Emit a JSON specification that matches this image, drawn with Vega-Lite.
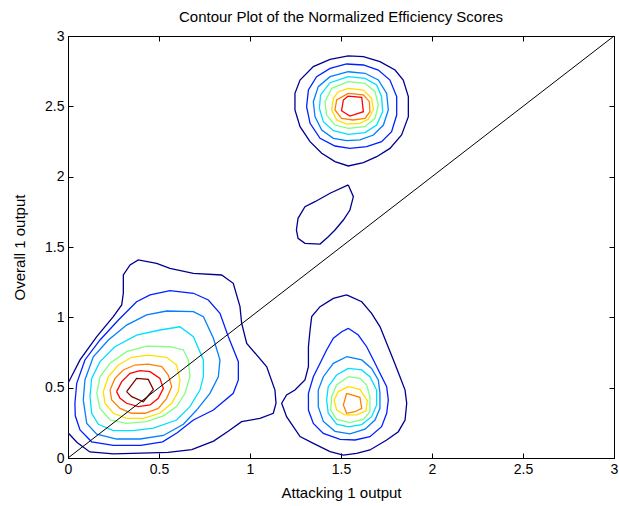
{
  "$schema": "https://vega.github.io/schema/vega-lite/v6.json",
  "width": 546,
  "height": 422,
  "autosize": {"type": "none"},
  "padding": {"left": 68, "top": 36, "right": 5, "bottom": 48},
  "background": "white",
  "title": {"text": "Contour Plot of the Normalized Efficiency Scores", "fontSize": 15, "fontWeight": "normal", "font": "Liberation Sans", "color": "black", "offset": 4, "anchor": "middle"},
  "config": {
    "view": {"stroke": "black", "strokeWidth": 1},
    "axis": {"grid": false, "domainColor": "black", "tickColor": "black", "labelColor": "black", "titleColor": "black", "labelFont": "Liberation Sans", "titleFont": "Liberation Sans", "labelFontSize": 14, "titleFontSize": 15, "titleFontWeight": "normal", "tickSize": -5, "labelPadding": 9, "format": "~g"}
  },
  "datasets": {
    "diag": [{"x": 0, "y": 0}, {"x": 3, "y": 3}],
    "contours": [
      {"c":"A0","l":0,"i":0,"x":0,"y":0.531},{"c":"A0","l":0,"i":1,"x":0.066,"y":0.697},{"c":"A0","l":0,"i":2,"x":0.158,"y":0.863},{"c":"A0","l":0,"i":3,"x":0.249,"y":1.005},{"c":"A0","l":0,"i":4,"x":0.295,"y":1.088},{"c":"A0","l":0,"i":5,"x":0.304,"y":1.171},{"c":"A0","l":0,"i":6,"x":0.304,"y":1.301},{"c":"A0","l":0,"i":7,"x":0.341,"y":1.372},{"c":"A0","l":0,"i":8,"x":0.386,"y":1.408},{"c":"A0","l":0,"i":9,"x":0.487,"y":1.384},{"c":"A0","l":0,"i":10,"x":0.56,"y":1.348},{"c":"A0","l":0,"i":11,"x":0.689,"y":1.313},{"c":"A0","l":0,"i":12,"x":0.844,"y":1.301},{"c":"A0","l":0,"i":13,"x":0.908,"y":1.242},{"c":"A0","l":0,"i":14,"x":0.945,"y":1.076},{"c":"A0","l":0,"i":15,"x":0.954,"y":0.958},{"c":"A0","l":0,"i":16,"x":0.982,"y":0.815},{"c":"A0","l":0,"i":17,"x":1.092,"y":0.649},{"c":"A0","l":0,"i":18,"x":1.137,"y":0.483},{"c":"A0","l":0,"i":19,"x":1.143,"y":0.389},{"c":"A0","l":0,"i":20,"x":1.128,"y":0.318},{"c":"A0","l":0,"i":21,"x":1.055,"y":0.282},{"c":"A0","l":0,"i":22,"x":0.954,"y":0.258},{"c":"A0","l":0,"i":23,"x":0.88,"y":0.19},{"c":"A0","l":0,"i":24,"x":0.8,"y":0.12},{"c":"A0","l":0,"i":25,"x":0.68,"y":0.06},{"c":"A0","l":0,"i":26,"x":0.55,"y":0.04},{"c":"A0","l":0,"i":27,"x":0.4,"y":0.035},{"c":"A0","l":0,"i":28,"x":0.25,"y":0.03},{"c":"A0","l":0,"i":29,"x":0.12,"y":0.043},{"c":"A0","l":0,"i":30,"x":0.05,"y":0.11},{"c":"A0","l":0,"i":31,"x":0,"y":0.18},
      {"c":"A1","l":1,"i":0,"x":0.038,"y":0.389},{"c":"A1","l":1,"i":1,"x":0.048,"y":0.531},{"c":"A1","l":1,"i":2,"x":0.093,"y":0.697},{"c":"A1","l":1,"i":3,"x":0.176,"y":0.839},{"c":"A1","l":1,"i":4,"x":0.277,"y":0.981},{"c":"A1","l":1,"i":5,"x":0.377,"y":1.111},{"c":"A1","l":1,"i":6,"x":0.451,"y":1.159},{"c":"A1","l":1,"i":7,"x":0.56,"y":1.19},{"c":"A1","l":1,"i":8,"x":0.689,"y":1.171},{"c":"A1","l":1,"i":9,"x":0.771,"y":1.123},{"c":"A1","l":1,"i":10,"x":0.835,"y":1.029},{"c":"A1","l":1,"i":11,"x":0.881,"y":0.862},{"c":"A1","l":1,"i":12,"x":0.936,"y":0.685},{"c":"A1","l":1,"i":13,"x":0.936,"y":0.555},{"c":"A1","l":1,"i":14,"x":0.908,"y":0.46},{"c":"A1","l":1,"i":15,"x":0.799,"y":0.341},{"c":"A1","l":1,"i":16,"x":0.689,"y":0.27},{"c":"A1","l":1,"i":17,"x":0.6,"y":0.18},{"c":"A1","l":1,"i":18,"x":0.52,"y":0.115},{"c":"A1","l":1,"i":19,"x":0.4,"y":0.09},{"c":"A1","l":1,"i":20,"x":0.25,"y":0.09},{"c":"A1","l":1,"i":21,"x":0.13,"y":0.115},{"c":"A1","l":1,"i":22,"x":0.066,"y":0.2},{"c":"A1","l":1,"i":23,"x":0.04,"y":0.3},{"c":"A1","l":1,"i":24,"x":0.038,"y":0.389},
      {"c":"A2","l":2,"i":0,"x":0.084,"y":0.412},{"c":"A2","l":2,"i":1,"x":0.093,"y":0.555},{"c":"A2","l":2,"i":2,"x":0.139,"y":0.72},{"c":"A2","l":2,"i":3,"x":0.222,"y":0.839},{"c":"A2","l":2,"i":4,"x":0.322,"y":0.945},{"c":"A2","l":2,"i":5,"x":0.432,"y":1.017},{"c":"A2","l":2,"i":6,"x":0.542,"y":1.045},{"c":"A2","l":2,"i":7,"x":0.689,"y":1.04},{"c":"A2","l":2,"i":8,"x":0.744,"y":1.004},{"c":"A2","l":2,"i":9,"x":0.799,"y":0.851},{"c":"A2","l":2,"i":10,"x":0.835,"y":0.697},{"c":"A2","l":2,"i":11,"x":0.826,"y":0.578},{"c":"A2","l":2,"i":12,"x":0.78,"y":0.46},{"c":"A2","l":2,"i":13,"x":0.707,"y":0.341},{"c":"A2","l":2,"i":14,"x":0.634,"y":0.24},{"c":"A2","l":2,"i":15,"x":0.524,"y":0.16},{"c":"A2","l":2,"i":16,"x":0.396,"y":0.135},{"c":"A2","l":2,"i":17,"x":0.267,"y":0.135},{"c":"A2","l":2,"i":18,"x":0.158,"y":0.17},{"c":"A2","l":2,"i":19,"x":0.103,"y":0.246},{"c":"A2","l":2,"i":20,"x":0.084,"y":0.412},
      {"c":"A3","l":3,"i":0,"x":0.121,"y":0.436},{"c":"A3","l":3,"i":1,"x":0.13,"y":0.566},{"c":"A3","l":3,"i":2,"x":0.176,"y":0.685},{"c":"A3","l":3,"i":3,"x":0.258,"y":0.791},{"c":"A3","l":3,"i":4,"x":0.377,"y":0.874},{"c":"A3","l":3,"i":5,"x":0.505,"y":0.91},{"c":"A3","l":3,"i":6,"x":0.615,"y":0.933},{"c":"A3","l":3,"i":7,"x":0.689,"y":0.862},{"c":"A3","l":3,"i":8,"x":0.744,"y":0.697},{"c":"A3","l":3,"i":9,"x":0.744,"y":0.578},{"c":"A3","l":3,"i":10,"x":0.725,"y":0.483},{"c":"A3","l":3,"i":11,"x":0.67,"y":0.365},{"c":"A3","l":3,"i":12,"x":0.597,"y":0.27},{"c":"A3","l":3,"i":13,"x":0.469,"y":0.213},{"c":"A3","l":3,"i":14,"x":0.359,"y":0.195},{"c":"A3","l":3,"i":15,"x":0.249,"y":0.195},{"c":"A3","l":3,"i":16,"x":0.167,"y":0.24},{"c":"A3","l":3,"i":17,"x":0.13,"y":0.318},{"c":"A3","l":3,"i":18,"x":0.121,"y":0.436},
      {"c":"A4","l":4,"i":0,"x":0.158,"y":0.46},{"c":"A4","l":4,"i":1,"x":0.176,"y":0.578},{"c":"A4","l":4,"i":2,"x":0.231,"y":0.673},{"c":"A4","l":4,"i":3,"x":0.322,"y":0.756},{"c":"A4","l":4,"i":4,"x":0.432,"y":0.796},{"c":"A4","l":4,"i":5,"x":0.56,"y":0.791},{"c":"A4","l":4,"i":6,"x":0.634,"y":0.768},{"c":"A4","l":4,"i":7,"x":0.661,"y":0.697},{"c":"A4","l":4,"i":8,"x":0.67,"y":0.578},{"c":"A4","l":4,"i":9,"x":0.643,"y":0.46},{"c":"A4","l":4,"i":10,"x":0.597,"y":0.365},{"c":"A4","l":4,"i":11,"x":0.524,"y":0.3},{"c":"A4","l":4,"i":12,"x":0.432,"y":0.258},{"c":"A4","l":4,"i":13,"x":0.322,"y":0.246},{"c":"A4","l":4,"i":14,"x":0.231,"y":0.27},{"c":"A4","l":4,"i":15,"x":0.176,"y":0.353},{"c":"A4","l":4,"i":16,"x":0.158,"y":0.46},
      {"c":"A5","l":5,"i":0,"x":0.194,"y":0.472},{"c":"A5","l":5,"i":1,"x":0.222,"y":0.578},{"c":"A5","l":5,"i":2,"x":0.277,"y":0.661},{"c":"A5","l":5,"i":3,"x":0.35,"y":0.716},{"c":"A5","l":5,"i":4,"x":0.441,"y":0.732},{"c":"A5","l":5,"i":5,"x":0.542,"y":0.716},{"c":"A5","l":5,"i":6,"x":0.597,"y":0.661},{"c":"A5","l":5,"i":7,"x":0.615,"y":0.555},{"c":"A5","l":5,"i":8,"x":0.606,"y":0.472},{"c":"A5","l":5,"i":9,"x":0.57,"y":0.389},{"c":"A5","l":5,"i":10,"x":0.505,"y":0.318},{"c":"A5","l":5,"i":11,"x":0.414,"y":0.282},{"c":"A5","l":5,"i":12,"x":0.322,"y":0.282},{"c":"A5","l":5,"i":13,"x":0.249,"y":0.318},{"c":"A5","l":5,"i":14,"x":0.203,"y":0.389},{"c":"A5","l":5,"i":15,"x":0.194,"y":0.472},
      {"c":"A6","l":6,"i":0,"x":0.231,"y":0.483},{"c":"A6","l":6,"i":1,"x":0.258,"y":0.566},{"c":"A6","l":6,"i":2,"x":0.304,"y":0.626},{"c":"A6","l":6,"i":3,"x":0.368,"y":0.661},{"c":"A6","l":6,"i":4,"x":0.441,"y":0.668},{"c":"A6","l":6,"i":5,"x":0.515,"y":0.649},{"c":"A6","l":6,"i":6,"x":0.551,"y":0.59},{"c":"A6","l":6,"i":7,"x":0.57,"y":0.507},{"c":"A6","l":6,"i":8,"x":0.542,"y":0.424},{"c":"A6","l":6,"i":9,"x":0.496,"y":0.353},{"c":"A6","l":6,"i":10,"x":0.423,"y":0.318},{"c":"A6","l":6,"i":11,"x":0.35,"y":0.318},{"c":"A6","l":6,"i":12,"x":0.286,"y":0.353},{"c":"A6","l":6,"i":13,"x":0.24,"y":0.412},{"c":"A6","l":6,"i":14,"x":0.231,"y":0.483},
      {"c":"A7","l":7,"i":0,"x":0.267,"y":0.472},{"c":"A7","l":7,"i":1,"x":0.295,"y":0.543},{"c":"A7","l":7,"i":2,"x":0.341,"y":0.602},{"c":"A7","l":7,"i":3,"x":0.396,"y":0.621},{"c":"A7","l":7,"i":4,"x":0.451,"y":0.614},{"c":"A7","l":7,"i":5,"x":0.505,"y":0.566},{"c":"A7","l":7,"i":6,"x":0.524,"y":0.495},{"c":"A7","l":7,"i":7,"x":0.496,"y":0.424},{"c":"A7","l":7,"i":8,"x":0.451,"y":0.377},{"c":"A7","l":7,"i":9,"x":0.386,"y":0.365},{"c":"A7","l":7,"i":10,"x":0.322,"y":0.389},{"c":"A7","l":7,"i":11,"x":0.286,"y":0.424},{"c":"A7","l":7,"i":12,"x":0.267,"y":0.472},
      {"c":"A8","l":8,"i":0,"x":0.322,"y":0.472},{"c":"A8","l":8,"i":1,"x":0.377,"y":0.566},{"c":"A8","l":8,"i":2,"x":0.441,"y":0.559},{"c":"A8","l":8,"i":3,"x":0.469,"y":0.488},{"c":"A8","l":8,"i":4,"x":0.414,"y":0.4},{"c":"A8","l":8,"i":5,"x":0.35,"y":0.436},{"c":"A8","l":8,"i":6,"x":0.322,"y":0.472},
      {"c":"B0","l":0,"i":0,"x":1.531,"y":1.159},{"c":"B0","l":0,"i":1,"x":1.614,"y":1.111},{"c":"B0","l":0,"i":2,"x":1.668,"y":1.028},{"c":"B0","l":0,"i":3,"x":1.714,"y":0.934},{"c":"B0","l":0,"i":4,"x":1.751,"y":0.815},{"c":"B0","l":0,"i":5,"x":1.788,"y":0.697},{"c":"B0","l":0,"i":6,"x":1.824,"y":0.578},{"c":"B0","l":0,"i":7,"x":1.852,"y":0.483},{"c":"B0","l":0,"i":8,"x":1.861,"y":0.389},{"c":"B0","l":0,"i":9,"x":1.852,"y":0.27},{"c":"B0","l":0,"i":10,"x":1.815,"y":0.187},{"c":"B0","l":0,"i":11,"x":1.751,"y":0.128},{"c":"B0","l":0,"i":12,"x":1.659,"y":0.057},{"c":"B0","l":0,"i":13,"x":1.586,"y":0.033},{"c":"B0","l":0,"i":14,"x":1.513,"y":0.021},{"c":"B0","l":0,"i":15,"x":1.44,"y":0.045},{"c":"B0","l":0,"i":16,"x":1.348,"y":0.104},{"c":"B0","l":0,"i":17,"x":1.275,"y":0.152},{"c":"B0","l":0,"i":18,"x":1.238,"y":0.223},{"c":"B0","l":0,"i":19,"x":1.201,"y":0.294},{"c":"B0","l":0,"i":20,"x":1.174,"y":0.389},{"c":"B0","l":0,"i":21,"x":1.201,"y":0.448},{"c":"B0","l":0,"i":22,"x":1.247,"y":0.483},{"c":"B0","l":0,"i":23,"x":1.302,"y":0.555},{"c":"B0","l":0,"i":24,"x":1.321,"y":0.649},{"c":"B0","l":0,"i":25,"x":1.321,"y":0.791},{"c":"B0","l":0,"i":26,"x":1.33,"y":0.91},{"c":"B0","l":0,"i":27,"x":1.339,"y":1.005},{"c":"B0","l":0,"i":28,"x":1.385,"y":1.076},{"c":"B0","l":0,"i":29,"x":1.458,"y":1.135},{"c":"B0","l":0,"i":30,"x":1.531,"y":1.159},
      {"c":"B1","l":1,"i":0,"x":1.54,"y":0.922},{"c":"B1","l":1,"i":1,"x":1.595,"y":0.874},{"c":"B1","l":1,"i":2,"x":1.641,"y":0.791},{"c":"B1","l":1,"i":3,"x":1.678,"y":0.697},{"c":"B1","l":1,"i":4,"x":1.714,"y":0.602},{"c":"B1","l":1,"i":5,"x":1.751,"y":0.507},{"c":"B1","l":1,"i":6,"x":1.76,"y":0.412},{"c":"B1","l":1,"i":7,"x":1.751,"y":0.318},{"c":"B1","l":1,"i":8,"x":1.723,"y":0.223},{"c":"B1","l":1,"i":9,"x":1.659,"y":0.152},{"c":"B1","l":1,"i":10,"x":1.577,"y":0.128},{"c":"B1","l":1,"i":11,"x":1.495,"y":0.133},{"c":"B1","l":1,"i":12,"x":1.403,"y":0.175},{"c":"B1","l":1,"i":13,"x":1.348,"y":0.246},{"c":"B1","l":1,"i":14,"x":1.321,"y":0.341},{"c":"B1","l":1,"i":15,"x":1.321,"y":0.46},{"c":"B1","l":1,"i":16,"x":1.348,"y":0.578},{"c":"B1","l":1,"i":17,"x":1.385,"y":0.673},{"c":"B1","l":1,"i":18,"x":1.421,"y":0.768},{"c":"B1","l":1,"i":19,"x":1.458,"y":0.851},{"c":"B1","l":1,"i":20,"x":1.504,"y":0.898},{"c":"B1","l":1,"i":21,"x":1.54,"y":0.922},
      {"c":"B2","l":2,"i":0,"x":1.531,"y":0.72},{"c":"B2","l":2,"i":1,"x":1.614,"y":0.697},{"c":"B2","l":2,"i":2,"x":1.668,"y":0.637},{"c":"B2","l":2,"i":3,"x":1.705,"y":0.555},{"c":"B2","l":2,"i":4,"x":1.714,"y":0.46},{"c":"B2","l":2,"i":5,"x":1.714,"y":0.353},{"c":"B2","l":2,"i":6,"x":1.687,"y":0.27},{"c":"B2","l":2,"i":7,"x":1.632,"y":0.205},{"c":"B2","l":2,"i":8,"x":1.549,"y":0.171},{"c":"B2","l":2,"i":9,"x":1.467,"y":0.19},{"c":"B2","l":2,"i":10,"x":1.403,"y":0.26},{"c":"B2","l":2,"i":11,"x":1.375,"y":0.365},{"c":"B2","l":2,"i":12,"x":1.375,"y":0.483},{"c":"B2","l":2,"i":13,"x":1.403,"y":0.578},{"c":"B2","l":2,"i":14,"x":1.458,"y":0.673},{"c":"B2","l":2,"i":15,"x":1.531,"y":0.72},
      {"c":"B3","l":3,"i":0,"x":1.54,"y":0.637},{"c":"B3","l":3,"i":1,"x":1.614,"y":0.626},{"c":"B3","l":3,"i":2,"x":1.659,"y":0.578},{"c":"B3","l":3,"i":3,"x":1.696,"y":0.483},{"c":"B3","l":3,"i":4,"x":1.696,"y":0.377},{"c":"B3","l":3,"i":5,"x":1.668,"y":0.294},{"c":"B3","l":3,"i":6,"x":1.614,"y":0.238},{"c":"B3","l":3,"i":7,"x":1.54,"y":0.221},{"c":"B3","l":3,"i":8,"x":1.476,"y":0.24},{"c":"B3","l":3,"i":9,"x":1.43,"y":0.318},{"c":"B3","l":3,"i":10,"x":1.421,"y":0.412},{"c":"B3","l":3,"i":11,"x":1.43,"y":0.507},{"c":"B3","l":3,"i":12,"x":1.476,"y":0.59},{"c":"B3","l":3,"i":13,"x":1.54,"y":0.637},
      {"c":"B4","l":4,"i":0,"x":1.54,"y":0.578},{"c":"B4","l":4,"i":1,"x":1.604,"y":0.566},{"c":"B4","l":4,"i":2,"x":1.641,"y":0.519},{"c":"B4","l":4,"i":3,"x":1.659,"y":0.436},{"c":"B4","l":4,"i":4,"x":1.659,"y":0.329},{"c":"B4","l":4,"i":5,"x":1.623,"y":0.275},{"c":"B4","l":4,"i":6,"x":1.549,"y":0.251},{"c":"B4","l":4,"i":7,"x":1.476,"y":0.275},{"c":"B4","l":4,"i":8,"x":1.443,"y":0.341},{"c":"B4","l":4,"i":9,"x":1.449,"y":0.436},{"c":"B4","l":4,"i":10,"x":1.476,"y":0.519},{"c":"B4","l":4,"i":11,"x":1.54,"y":0.578},
      {"c":"B5","l":5,"i":0,"x":1.54,"y":0.507},{"c":"B5","l":5,"i":1,"x":1.604,"y":0.488},{"c":"B5","l":5,"i":2,"x":1.645,"y":0.408},{"c":"B5","l":5,"i":3,"x":1.637,"y":0.336},{"c":"B5","l":5,"i":4,"x":1.586,"y":0.306},{"c":"B5","l":5,"i":5,"x":1.522,"y":0.306},{"c":"B5","l":5,"i":6,"x":1.476,"y":0.341},{"c":"B5","l":5,"i":7,"x":1.462,"y":0.412},{"c":"B5","l":5,"i":8,"x":1.485,"y":0.472},{"c":"B5","l":5,"i":9,"x":1.54,"y":0.507},
      {"c":"B6","l":6,"i":0,"x":1.531,"y":0.46},{"c":"B6","l":6,"i":1,"x":1.604,"y":0.431},{"c":"B6","l":6,"i":2,"x":1.614,"y":0.353},{"c":"B6","l":6,"i":3,"x":1.577,"y":0.329},{"c":"B6","l":6,"i":4,"x":1.531,"y":0.318},{"c":"B6","l":6,"i":5,"x":1.513,"y":0.377},{"c":"B6","l":6,"i":6,"x":1.531,"y":0.46},
      {"c":"T0","l":0,"i":0,"x":1.54,"y":2.858},{"c":"T0","l":0,"i":1,"x":1.623,"y":2.853},{"c":"T0","l":0,"i":2,"x":1.714,"y":2.818},{"c":"T0","l":0,"i":3,"x":1.797,"y":2.758},{"c":"T0","l":0,"i":4,"x":1.842,"y":2.687},{"c":"T0","l":0,"i":5,"x":1.87,"y":2.569},{"c":"T0","l":0,"i":6,"x":1.87,"y":2.427},{"c":"T0","l":0,"i":7,"x":1.833,"y":2.296},{"c":"T0","l":0,"i":8,"x":1.769,"y":2.201},{"c":"T0","l":0,"i":9,"x":1.696,"y":2.142},{"c":"T0","l":0,"i":10,"x":1.623,"y":2.1},{"c":"T0","l":0,"i":11,"x":1.54,"y":2.076},{"c":"T0","l":0,"i":12,"x":1.467,"y":2.107},{"c":"T0","l":0,"i":13,"x":1.394,"y":2.166},{"c":"T0","l":0,"i":14,"x":1.33,"y":2.249},{"c":"T0","l":0,"i":15,"x":1.275,"y":2.355},{"c":"T0","l":0,"i":16,"x":1.247,"y":2.474},{"c":"T0","l":0,"i":17,"x":1.247,"y":2.592},{"c":"T0","l":0,"i":18,"x":1.275,"y":2.687},{"c":"T0","l":0,"i":19,"x":1.348,"y":2.782},{"c":"T0","l":0,"i":20,"x":1.44,"y":2.834},{"c":"T0","l":0,"i":21,"x":1.54,"y":2.858},
      {"c":"T1","l":1,"i":0,"x":1.531,"y":2.801},{"c":"T1","l":1,"i":1,"x":1.623,"y":2.794},{"c":"T1","l":1,"i":2,"x":1.705,"y":2.758},{"c":"T1","l":1,"i":3,"x":1.769,"y":2.687},{"c":"T1","l":1,"i":4,"x":1.806,"y":2.569},{"c":"T1","l":1,"i":5,"x":1.806,"y":2.438},{"c":"T1","l":1,"i":6,"x":1.778,"y":2.32},{"c":"T1","l":1,"i":7,"x":1.723,"y":2.249},{"c":"T1","l":1,"i":8,"x":1.641,"y":2.213},{"c":"T1","l":1,"i":9,"x":1.549,"y":2.201},{"c":"T1","l":1,"i":10,"x":1.467,"y":2.218},{"c":"T1","l":1,"i":11,"x":1.385,"y":2.273},{"c":"T1","l":1,"i":12,"x":1.33,"y":2.379},{"c":"T1","l":1,"i":13,"x":1.311,"y":2.498},{"c":"T1","l":1,"i":14,"x":1.321,"y":2.616},{"c":"T1","l":1,"i":15,"x":1.366,"y":2.711},{"c":"T1","l":1,"i":16,"x":1.44,"y":2.77},{"c":"T1","l":1,"i":17,"x":1.531,"y":2.801},
      {"c":"T2","l":2,"i":0,"x":1.54,"y":2.746},{"c":"T2","l":2,"i":1,"x":1.632,"y":2.735},{"c":"T2","l":2,"i":2,"x":1.705,"y":2.687},{"c":"T2","l":2,"i":3,"x":1.751,"y":2.592},{"c":"T2","l":2,"i":4,"x":1.76,"y":2.474},{"c":"T2","l":2,"i":5,"x":1.733,"y":2.367},{"c":"T2","l":2,"i":6,"x":1.678,"y":2.296},{"c":"T2","l":2,"i":7,"x":1.604,"y":2.261},{"c":"T2","l":2,"i":8,"x":1.531,"y":2.256},{"c":"T2","l":2,"i":9,"x":1.458,"y":2.273},{"c":"T2","l":2,"i":10,"x":1.394,"y":2.332},{"c":"T2","l":2,"i":11,"x":1.357,"y":2.427},{"c":"T2","l":2,"i":12,"x":1.348,"y":2.533},{"c":"T2","l":2,"i":13,"x":1.375,"y":2.64},{"c":"T2","l":2,"i":14,"x":1.44,"y":2.711},{"c":"T2","l":2,"i":15,"x":1.54,"y":2.746},
      {"c":"T3","l":3,"i":0,"x":1.54,"y":2.711},{"c":"T3","l":3,"i":1,"x":1.632,"y":2.699},{"c":"T3","l":3,"i":2,"x":1.696,"y":2.652},{"c":"T3","l":3,"i":3,"x":1.723,"y":2.569},{"c":"T3","l":3,"i":4,"x":1.729,"y":2.462},{"c":"T3","l":3,"i":5,"x":1.696,"y":2.367},{"c":"T3","l":3,"i":6,"x":1.632,"y":2.313},{"c":"T3","l":3,"i":7,"x":1.54,"y":2.301},{"c":"T3","l":3,"i":8,"x":1.458,"y":2.327},{"c":"T3","l":3,"i":9,"x":1.403,"y":2.391},{"c":"T3","l":3,"i":10,"x":1.381,"y":2.486},{"c":"T3","l":3,"i":11,"x":1.388,"y":2.581},{"c":"T3","l":3,"i":12,"x":1.44,"y":2.668},{"c":"T3","l":3,"i":13,"x":1.54,"y":2.711},
      {"c":"T4","l":4,"i":0,"x":1.54,"y":2.675},{"c":"T4","l":4,"i":1,"x":1.632,"y":2.664},{"c":"T4","l":4,"i":2,"x":1.687,"y":2.604},{"c":"T4","l":4,"i":3,"x":1.705,"y":2.509},{"c":"T4","l":4,"i":4,"x":1.687,"y":2.415},{"c":"T4","l":4,"i":5,"x":1.632,"y":2.355},{"c":"T4","l":4,"i":6,"x":1.54,"y":2.344},{"c":"T4","l":4,"i":7,"x":1.467,"y":2.367},{"c":"T4","l":4,"i":8,"x":1.421,"y":2.438},{"c":"T4","l":4,"i":9,"x":1.412,"y":2.533},{"c":"T4","l":4,"i":10,"x":1.449,"y":2.628},{"c":"T4","l":4,"i":11,"x":1.54,"y":2.675},
      {"c":"T5","l":5,"i":0,"x":1.54,"y":2.628},{"c":"T5","l":5,"i":1,"x":1.623,"y":2.616},{"c":"T5","l":5,"i":2,"x":1.668,"y":2.557},{"c":"T5","l":5,"i":3,"x":1.678,"y":2.474},{"c":"T5","l":5,"i":4,"x":1.65,"y":2.408},{"c":"T5","l":5,"i":5,"x":1.604,"y":2.379},{"c":"T5","l":5,"i":6,"x":1.531,"y":2.374},{"c":"T5","l":5,"i":7,"x":1.476,"y":2.403},{"c":"T5","l":5,"i":8,"x":1.449,"y":2.474},{"c":"T5","l":5,"i":9,"x":1.458,"y":2.557},{"c":"T5","l":5,"i":10,"x":1.485,"y":2.604},{"c":"T5","l":5,"i":11,"x":1.54,"y":2.628},
      {"c":"T6","l":6,"i":0,"x":1.54,"y":2.592},{"c":"T6","l":6,"i":1,"x":1.623,"y":2.581},{"c":"T6","l":6,"i":2,"x":1.656,"y":2.533},{"c":"T6","l":6,"i":3,"x":1.659,"y":2.462},{"c":"T6","l":6,"i":4,"x":1.632,"y":2.415},{"c":"T6","l":6,"i":5,"x":1.567,"y":2.403},{"c":"T6","l":6,"i":6,"x":1.503,"y":2.415},{"c":"T6","l":6,"i":7,"x":1.467,"y":2.474},{"c":"T6","l":6,"i":8,"x":1.476,"y":2.545},{"c":"T6","l":6,"i":9,"x":1.54,"y":2.592},
      {"c":"T7","l":7,"i":0,"x":1.54,"y":2.573},{"c":"T7","l":7,"i":1,"x":1.614,"y":2.564},{"c":"T7","l":7,"i":2,"x":1.623,"y":2.462},{"c":"T7","l":7,"i":3,"x":1.549,"y":2.431},{"c":"T7","l":7,"i":4,"x":1.503,"y":2.469},{"c":"T7","l":7,"i":5,"x":1.513,"y":2.545},{"c":"T7","l":7,"i":6,"x":1.54,"y":2.573},
      {"c":"S0","l":0,"i":0,"x":1.54,"y":1.941},{"c":"S0","l":0,"i":1,"x":1.568,"y":1.858},{"c":"S0","l":0,"i":2,"x":1.549,"y":1.763},{"c":"S0","l":0,"i":3,"x":1.513,"y":1.692},{"c":"S0","l":0,"i":4,"x":1.467,"y":1.621},{"c":"S0","l":0,"i":5,"x":1.43,"y":1.573},{"c":"S0","l":0,"i":6,"x":1.385,"y":1.521},{"c":"S0","l":0,"i":7,"x":1.302,"y":1.526},{"c":"S0","l":0,"i":8,"x":1.264,"y":1.562},{"c":"S0","l":0,"i":9,"x":1.255,"y":1.621},{"c":"S0","l":0,"i":10,"x":1.264,"y":1.704},{"c":"S0","l":0,"i":11,"x":1.302,"y":1.787},{"c":"S0","l":0,"i":12,"x":1.357,"y":1.822},{"c":"S0","l":0,"i":13,"x":1.44,"y":1.882},{"c":"S0","l":0,"i":14,"x":1.54,"y":1.941}
    ]
  },
  "layer": [
    {
      "data": {"name": "contours"},
      "mark": {"type": "line", "strokeWidth": 1.3, "clip": true},
      "encoding": {
        "x": {"field": "x", "type": "quantitative", "scale": {"domain": [0, 3], "nice": false, "zero": false}, "axis": {"orient": "bottom", "values": [0, 0.5, 1, 1.5, 2, 2.5, 3], "title": "Attacking 1 output", "titlePadding": 9, "labelFlush": false}},
        "y": {"field": "y", "type": "quantitative", "scale": {"domain": [0, 3], "nice": false, "zero": false}, "axis": {"orient": "left", "values": [0, 0.5, 1, 1.5, 2, 2.5, 3], "title": "Overall 1 output", "titlePadding": 17, "labelFlush": false}},
        "detail": {"field": "c"},
        "order": {"field": "i", "type": "quantitative"},
        "color": {"field": "l", "type": "ordinal", "legend": null, "scale": {"domain": [0, 1, 2, 3, 4, 5, 6, 7, 8], "range": ["#00008F", "#0020FF", "#0080FF", "#00DFFF", "#80FF80", "#FFDF00", "#FF8000", "#FF0000", "#800000"]}}
      }
    },
    {
      "data": {"name": "diag"},
      "mark": {"type": "line", "color": "black", "strokeWidth": 1},
      "encoding": {
        "x": {"field": "x", "type": "quantitative", "axis": {"orient": "top", "values": [0, 0.5, 1, 1.5, 2, 2.5, 3], "labels": false, "title": null}},
        "y": {"field": "y", "type": "quantitative", "axis": {"orient": "right", "values": [0, 0.5, 1, 1.5, 2, 2.5, 3], "labels": false, "title": null}}
      }
    }
  ],
  "resolve": {"axis": {"x": "independent", "y": "independent"}}
}
